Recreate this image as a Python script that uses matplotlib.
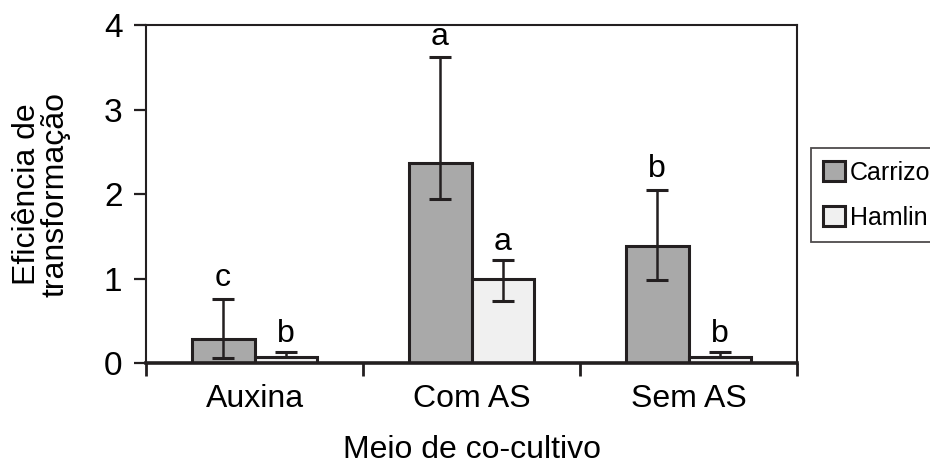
import numpy as np
import matplotlib
matplotlib.use('Agg')
import matplotlib.pyplot as plt

plt.rcParams['font.family'] = ['Liberation Sans', 'DejaVu Sans']

categories = ['Auxina', 'Com AS', 'Sem AS']
carrizo = [0.28, 2.37, 1.39]
carrizo_lo = [0.22, 0.43, 0.41]
carrizo_hi = [0.48, 1.25, 0.66]
carrizo_letters = ['c', 'a', 'b']
hamlin = [0.07, 0.99, 0.07]
hamlin_lo = [0.0, 0.25, 0.0]
hamlin_hi = [0.06, 0.23, 0.06]
hamlin_letters = ['b', 'a', 'b']

edge = '#231f20'
fig = plt.figure(figsize=(9.3, 4.66), dpi=100)
ax = fig.add_axes([0.157, 0.221, 0.700, 0.725])

x = np.arange(len(categories))
w = 0.29
ax.bar(x - w / 2, carrizo, w, color='#a9a9a9', edgecolor=edge, linewidth=2.2,
       label='Carrizo', zorder=2)
ax.bar(x + w / 2, hamlin, w, color='#f0f0f0', edgecolor=edge, linewidth=2.2,
       label='Hamlin', zorder=2)
ax.errorbar(x - w / 2, carrizo, yerr=[carrizo_lo, carrizo_hi], fmt='none',
            ecolor=edge, elinewidth=1.8, capsize=8, capthick=2.2, zorder=3)
ax.errorbar(x + w / 2, hamlin, yerr=[hamlin_lo, hamlin_hi], fmt='none',
            ecolor=edge, elinewidth=1.8, capsize=8, capthick=2.2, zorder=3)

for i in range(len(categories)):
    ax.annotate(carrizo_letters[i], (x[i] - w / 2, carrizo[i] + carrizo_hi[i]),
                xytext=(0, 4), textcoords='offset points', ha='center',
                va='bottom', fontsize=23)
    ax.annotate(hamlin_letters[i], (x[i] + w / 2, hamlin[i] + hamlin_hi[i]),
                xytext=(0, 2), textcoords='offset points', ha='center',
                va='bottom', fontsize=23)

ax.set_xlim(-0.5, 2.5)
ax.set_ylim(0, 4)
ax.set_yticks([0, 1, 2, 3, 4])
ax.set_xticks(x)
ax.set_xticklabels(categories)
ax.set_xticks([-0.5, 0.5, 1.5, 2.5], minor=True)
ax.tick_params(axis='x', which='major', length=0, pad=15, labelsize=23)
ax.tick_params(axis='x', which='minor', length=9, width=2, color=edge)
ax.tick_params(axis='y', length=9, width=1.6, color=edge, labelsize=24, pad=8)
for s in ['top', 'right', 'left']:
    ax.spines[s].set_linewidth(1.5)
    ax.spines[s].set_color(edge)
ax.spines['bottom'].set_linewidth(2.6)
ax.spines['bottom'].set_color(edge)

ax.set_xlabel('Meio de co-cultivo', fontsize=23, labelpad=15)
ax.set_ylabel('Eficiência de\ntransformação', fontsize=23, labelpad=24,
              linespacing=0.95)

leg = ax.legend(loc='upper left', bbox_to_anchor=(0.872, 0.682),
                bbox_transform=fig.transFigure, frameon=True, fancybox=False,
                fontsize=18, handlelength=0.85, handleheight=0.85,
                handletextpad=0.2, labelspacing=0.85, borderpad=0.5,
                borderaxespad=0)
leg.get_frame().set_edgecolor(edge)
leg.get_frame().set_linewidth(1.3)

fig.savefig('out.png', dpi=100)
